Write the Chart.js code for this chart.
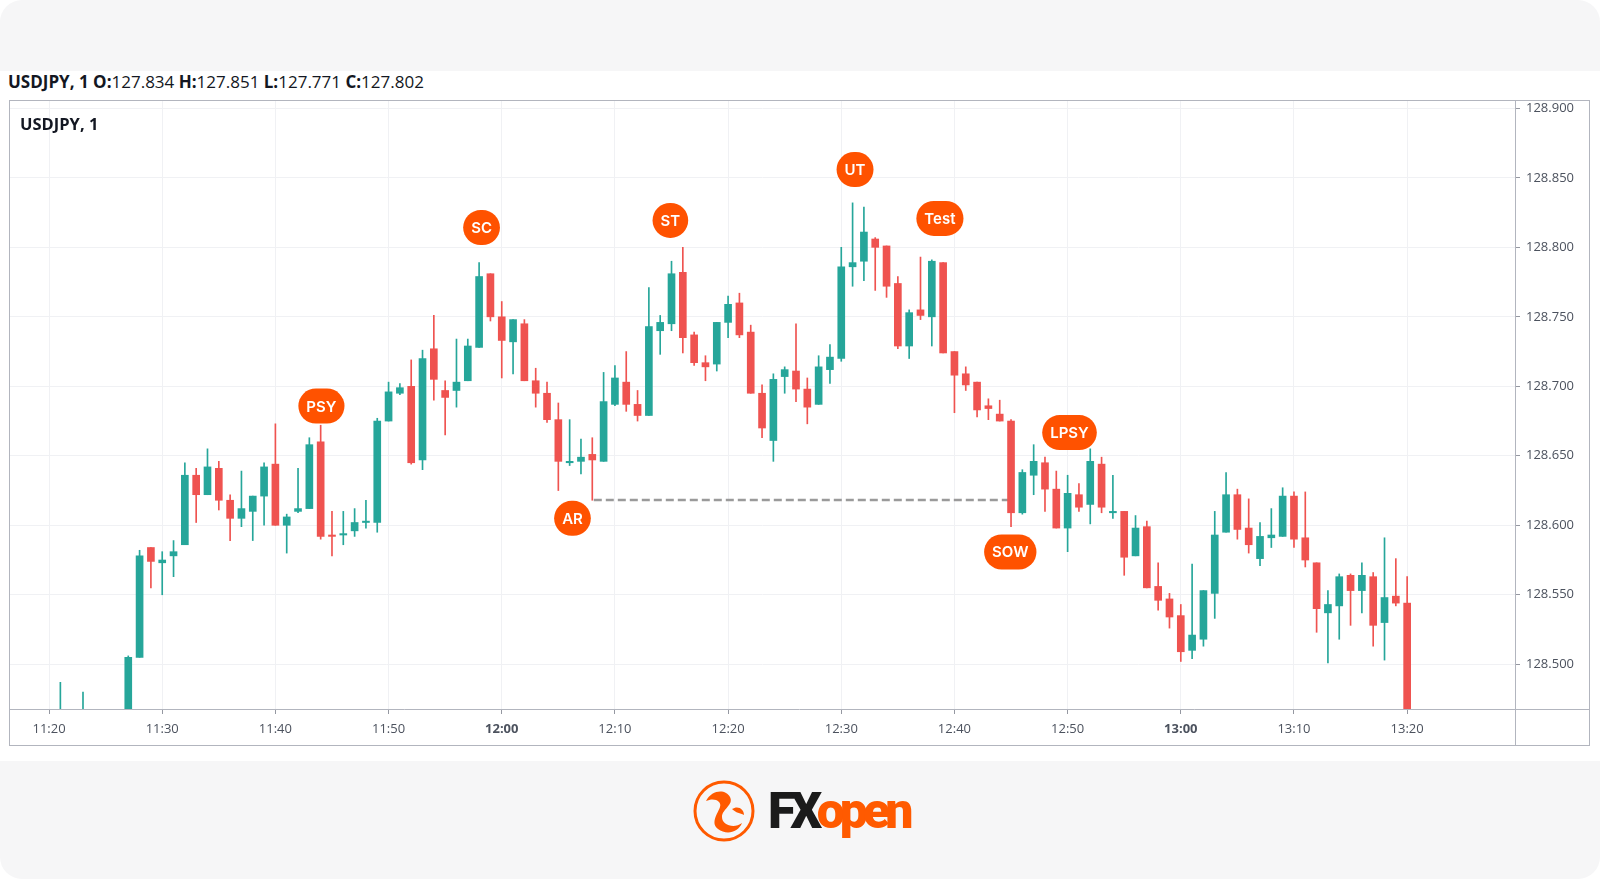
<!DOCTYPE html>
<html>
<head>
<meta charset="utf-8">
<script src="https://cdn.jsdelivr.net/npm/chart.js@4.4.1/dist/chart.umd.min.js"></script>
<style>
  html, body { margin: 0; padding: 0; background: #fff; }
  #page { position: relative; width: 1600px; height: 879px; background: #f6f6f7; border-radius: 22px; overflow: hidden; font-family: "Open Sans", sans-serif; }
  #band { position: absolute; left: 0; top: 71px; width: 1600px; height: 690px; background: #fff; }
  #head { position: absolute; left: 8px; top: 69px; font-size: 17px; line-height: 26px; color: #131722; white-space: nowrap; }
  #head b { font-weight: 700; }
  #frame { position: absolute; left: 9px; top: 100px; width: 1581px; height: 646px; border: 1px solid #b2b5be; box-sizing: border-box; }
  #frame canvas { position: absolute; left: 0; top: 0; }
  #sym { position: absolute; left: 20px; top: 112px; font-size: 16.5px; line-height: 24px; font-weight: 700; color: #131722; }
  #logo { position: absolute; left: 692px; top: 779px; height: 64px; display: flex; align-items: center; }
  #logo .txt { font-family: Roboto, sans-serif; font-weight: 900; font-size: 50px; letter-spacing: -5px; margin-left: 12px; line-height: 1; }
  #logo .fx { color: #1b1b1b; }
  #logo .op { color: #ff5a00; }
</style>
</head>
<body>
<div id="page">
  <div id="band"></div>
  <div id="head"><b>USDJPY, 1 O:</b>127.834 <b>H:</b>127.851 <b>L:</b>127.771 <b>C:</b>127.802</div>
  <div id="frame"><canvas id="chart" width="1579" height="644"></canvas></div>
  <div id="sym">USDJPY, 1</div>
  <div id="logo">
    <svg width="64" height="64" viewBox="0 0 64 64">
      <circle cx="32" cy="32" r="29" fill="none" stroke="#ff5a00" stroke-width="3"/>
      <path d="M14 22 C20 10 34 10 38 18 C42 26 30 30 30 38 C30 46 42 50 50 44 C46 54 34 56 26 50 C18 44 26 34 28 28 C30 22 22 18 14 22 Z" fill="#ff5a00"/>
      <path d="M40 30 C46 26 52 30 52 36 C48 34 44 34 40 30 Z" fill="#ff5a00"/>
    </svg>
    <div class="txt"><span class="fx">FX</span><span class="op">open</span></div>
  </div>
</div>
<script>
// one-minute candles, 11:21 .. 13:20
const times = [
  '11:21','11:22','11:23','11:24','11:25','11:26','11:27','11:28','11:29','11:30',
  '11:31','11:32','11:33','11:34','11:35','11:36','11:37','11:38','11:39','11:40',
  '11:41','11:42','11:43','11:44','11:45','11:46','11:47','11:48','11:49','11:50',
  '11:51','11:52','11:53','11:54','11:55','11:56','11:57','11:58','11:59','12:00',
  '12:01','12:02','12:03','12:04','12:05','12:06','12:07','12:08','12:09','12:10',
  '12:11','12:12','12:13','12:14','12:15','12:16','12:17','12:18','12:19','12:20',
  '12:21','12:22','12:23','12:24','12:25','12:26','12:27','12:28','12:29','12:30',
  '12:31','12:32','12:33','12:34','12:35','12:36','12:37','12:38','12:39','12:40',
  '12:41','12:42','12:43','12:44','12:45','12:46','12:47','12:48','12:49','12:50',
  '12:51','12:52','12:53','12:54','12:55','12:56','12:57','12:58','12:59','13:00',
  '13:01','13:02','13:03','13:04','13:05','13:06','13:07','13:08','13:09','13:10',
  '13:11','13:12','13:13','13:14','13:15','13:16','13:17','13:18','13:19','13:20'
];
const opens = [
  128.455,128.462,128.452,128.458,128.446,128.452,128.449,128.505,128.584,128.573,
  128.578,128.586,128.636,128.622,128.641,128.618,128.605,128.610,128.621,128.644,
  128.600,128.610,128.612,128.660,128.593,128.593,128.596,128.602,128.602,128.675,
  128.695,128.700,128.647,128.727,128.697,128.697,128.704,128.728,128.781,128.750,
  128.732,128.745,128.704,128.695,128.676,128.645,128.646,128.651,128.646,128.687,
  128.703,128.687,128.679,128.740,128.745,128.782,128.737,128.717,128.716,128.746,
  128.760,128.739,128.695,128.661,128.707,128.711,128.698,128.687,128.712,128.720,
  128.786,128.790,128.806,128.801,128.774,128.729,128.755,128.750,128.789,128.725,
  128.709,128.703,128.686,128.680,128.675,128.609,128.636,128.645,128.626,128.598,
  128.622,128.615,128.644,128.609,128.610,128.578,128.599,128.556,128.547,128.535,
  128.510,128.518,128.551,128.595,128.622,128.598,128.576,128.591,128.592,128.621,
  128.591,128.573,128.537,128.542,128.564,128.553,128.563,128.530,128.549,128.544
];
const highs = [
  128.487,128.466,128.480,128.464,128.460,128.463,128.506,128.582,128.584,128.581,
  128.589,128.645,128.641,128.655,128.646,128.622,128.639,128.621,128.645,128.673,
  128.608,128.641,128.663,128.672,128.610,128.610,128.612,128.618,128.677,128.703,
  128.702,128.719,128.726,128.751,128.704,128.734,128.734,128.789,128.781,128.761,
  128.748,128.748,128.713,128.703,128.688,128.676,128.662,128.663,128.710,128.715,
  128.725,128.697,128.771,128.751,128.790,128.800,128.739,128.722,128.746,128.765,
  128.767,128.744,128.701,128.709,128.714,128.745,128.706,128.722,128.730,128.800,
  128.832,128.829,128.807,128.801,128.779,128.755,128.793,128.791,128.789,128.725,
  128.714,128.703,128.691,128.690,128.676,128.640,128.658,128.649,128.639,128.636,
  128.630,128.655,128.649,128.636,128.610,128.607,128.603,128.573,128.551,128.543,
  128.572,128.553,128.610,128.638,128.626,128.619,128.602,128.612,128.627,128.624,
  128.624,128.573,128.553,128.565,128.565,128.573,128.566,128.591,128.576,128.563
];
const lows = [
  128.448,128.445,128.447,128.440,128.438,128.444,128.445,128.505,128.555,128.550,
  128.563,128.586,128.602,128.622,128.611,128.589,128.599,128.589,128.600,128.600,
  128.580,128.609,128.612,128.590,128.578,128.586,128.592,128.598,128.595,128.675,
  128.694,128.644,128.640,128.690,128.665,128.685,128.704,128.728,128.747,128.706,
  128.709,128.704,128.685,128.674,128.625,128.643,128.637,128.618,128.646,128.686,
  128.682,128.675,128.679,128.723,128.740,128.724,128.715,128.704,128.711,128.735,
  128.735,128.695,128.663,128.646,128.695,128.689,128.673,128.687,128.702,128.718,
  128.772,128.776,128.769,128.764,128.727,128.720,128.748,128.729,128.724,128.681,
  128.697,128.678,128.676,128.675,128.599,128.608,128.622,128.610,128.598,128.581,
  128.610,128.601,128.609,128.605,128.564,128.578,128.555,128.539,128.526,128.502,
  128.504,128.513,128.533,128.595,128.590,128.580,128.571,128.584,128.592,128.584,
  128.570,128.523,128.501,128.518,128.528,128.537,128.513,128.503,128.542,128.450
];
const closes = [
  128.462,128.452,128.458,128.446,128.452,128.449,128.505,128.578,128.574,128.575,
  128.581,128.636,128.622,128.642,128.618,128.605,128.612,128.621,128.642,128.600,
  128.606,128.612,128.658,128.592,128.592,128.594,128.602,128.603,128.675,128.696,
  128.699,128.645,128.720,128.705,128.692,128.703,128.729,128.779,128.750,128.733,
  128.748,128.704,128.695,128.676,128.646,128.646,128.649,128.647,128.689,128.706,
  128.687,128.679,128.743,128.746,128.781,128.735,128.717,128.714,128.746,128.759,
  128.737,128.695,128.670,128.705,128.712,128.698,128.685,128.714,128.721,128.786,
  128.789,128.811,128.800,128.772,128.729,128.753,128.751,128.790,128.724,128.708,
  128.701,128.683,128.684,128.675,128.609,128.638,128.646,128.626,128.598,128.623,
  128.613,128.646,128.613,128.610,128.577,128.598,128.555,128.546,128.534,128.509,
  128.521,128.553,128.593,128.622,128.597,128.586,128.592,128.593,128.621,128.590,
  128.575,128.540,128.543,128.563,128.553,128.564,128.528,128.548,128.544,128.455
];

// Wyckoff labels
const markNames = ['PSY', 'SC', 'AR', 'ST', 'UT', 'Test', 'SOW', 'LPSY'];
const markTimes = ['11:44:04', '11:58:13', '12:06:15', '12:14:54', '12:31:13', '12:38:43', '12:44:56', '12:50:10'];
const markPrices = [128.6858, 128.8142, 128.605, 128.8194, 128.856, 128.8208, 128.5808, 128.6667];

// dashed AR level
const arLineTimes = ['12:08:08', '12:44:56'];
const arLevel = 128.6182;

const UP = '#26a69a';
const DOWN = '#ef5350';

// minutes since 11:20
function toMin(t) {
  const p = t.split(':').map(Number);
  return (p[0] - 11) * 60 + p[1] - 20 + (p[2] || 0) / 60;
}
function fmtTime(v) {
  const total = 11 * 60 + 20 + v;
  const h = Math.floor(total / 60), m = Math.round(total % 60);
  return h + ':' + String(m).padStart(2, '0');
}

const colors = times.map((t, i) => closes[i] >= opens[i] ? UP : DOWN);
const wickData = times.map((t, i) => ({ x: toMin(t), y: [lows[i], highs[i]] }));
const bodyData = times.map((t, i) => ({ x: toMin(t), y: [opens[i], closes[i]] }));

const marksPlugin = {
  id: 'marks',
  afterDraw(chart) {
    const { ctx, chartArea, scales: { x, y } } = chart;
    ctx.save();
    // pane separators
    ctx.strokeStyle = '#b2b5be';
    ctx.lineWidth = 1;
    ctx.beginPath();
    ctx.moveTo(0, Math.round(chartArea.bottom) + 0.5);
    ctx.lineTo(chart.width, Math.round(chartArea.bottom) + 0.5);
    ctx.moveTo(Math.round(chartArea.right) + 0.5, 0);
    ctx.lineTo(Math.round(chartArea.right) + 0.5, chart.height);
    ctx.stroke();

    ctx.font = '600 15px Inter, sans-serif';
    ctx.textAlign = 'center';
    ctx.textBaseline = 'middle';
    markNames.forEach((name, i) => {
      const cx = x.getPixelForValue(toMin(markTimes[i]));
      const cy = y.getPixelForValue(markPrices[i]);
      const h = 35;
      const w = Math.max(h, ctx.measureText(name).width + 16);
      ctx.fillStyle = '#ff5200';
      ctx.beginPath();
      ctx.roundRect(cx - w / 2, cy - h / 2, w, h, h / 2);
      ctx.fill();
      ctx.fillStyle = '#fff';
      ctx.fillText(name, cx, cy + 1);
    });
    ctx.restore();
  }
};

new Chart(document.getElementById('chart'), {
  type: 'bar',
  data: {
    datasets: [
      {
        label: 'wick',
        data: wickData,
        backgroundColor: colors,
        barThickness: 1,
        grouped: false,
        clip: 0
      },
      {
        label: 'body',
        data: bodyData,
        backgroundColor: colors,
        barThickness: 7,
        minBarLength: 1,
        grouped: false,
        clip: 0
      },
      {
        type: 'line',
        label: 'AR',
        data: arLineTimes.map(t => ({ x: toMin(t), y: arLevel })),
        borderColor: '#9a9a9a',
        borderWidth: 2.5,
        borderDash: [8, 4],
        pointRadius: 0,
        fill: false
      }
    ]
  },
  options: {
    responsive: false,
    animation: false,
    devicePixelRatio: 1,
    layout: { padding: 0 },
    plugins: {
      legend: { display: false },
      tooltip: { enabled: false }
    },
    scales: {
      x: {
        type: 'linear',
        min: -3.45,
        max: 129.53,
        offset: false,
        grid: { offset: false, color: '#f0f1f4', tickColor: '#9598a1', tickLength: 5 },
        border: { display: false },
        ticks: {
          stepSize: 10,
          includeBounds: false,
          maxRotation: 0,
          autoSkip: false,
          padding: 7,
          color: '#4c525e',
          font: (c) => ({ family: 'Open Sans', size: 13, weight: (c.tick && (c.tick.value + 20) % 60 === 0) ? 'bold' : 'normal' }),
          callback: (v) => fmtTime(v)
        },
        afterFit: (s) => { s.height = 36; s.paddingLeft = 0; s.paddingRight = 0; }
      },
      y: {
        position: 'right',
        min: 128.4678,
        max: 128.9053,
        grid: { color: '#f0f1f4', tickColor: '#9598a1', tickLength: 5 },
        border: { display: false },
        ticks: {
          stepSize: 0.05,
          includeBounds: false,
          padding: 6,
          color: '#4c525e',
          font: { family: 'Open Sans', size: 13 },
          callback: (v) => Number(v).toFixed(3)
        },
        afterFit: (s) => { s.width = 74; s.paddingTop = 0; s.paddingBottom = 0; }
      }
    }
  },
  plugins: [marksPlugin]
});
</script>
</body>
</html>
